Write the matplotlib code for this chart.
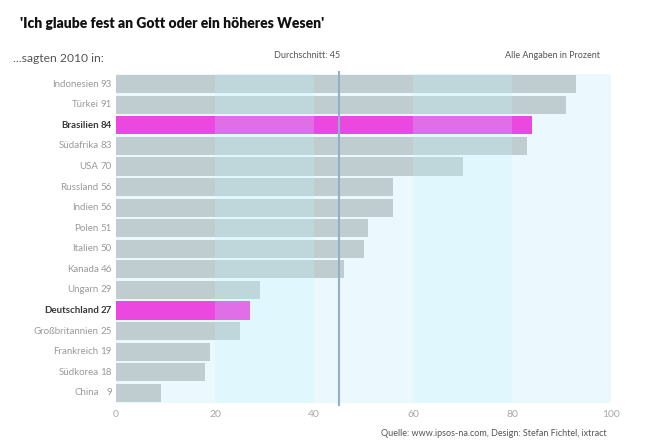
import matplotlib
matplotlib.use("Agg")
import matplotlib.pyplot as plt
import matplotlib.transforms as mtransforms

countries = ["Indonesien", "Türkei", "Brasilien", "Südafrika", "USA", "Russland",
             "Indien", "Polen", "Italien", "Kanada", "Ungarn", "Deutschland",
             "Großbritannien", "Frankreich", "Südkorea", "China"]
values = [93, 91, 84, 83, 70, 56, 56, 51, 50, 46, 29, 27, 25, 19, 18, 9]
highlight = ["Brasilien", "Deutschland"]
average = 45
xticks = [0, 20, 40, 60, 80, 100]

plt.rcParams['font.family'] = ['Lato', 'DejaVu Sans']

fig = plt.figure(figsize=(6.5, 4.45), dpi=100)
ax = fig.add_axes([116/650, 1-403/445, 495/650, 329/445])

n = len(countries)
ax.set_xlim(0, 100)
ax.set_ylim(n - 0.5, -0.5)

# light background
ax.axvspan(0, 100, color="#ebf8fd", zorder=0, lw=0)

bar_colors = ["#eb48e0" if c in highlight else "#bfcdd1" for c in countries]
ax.barh(range(n), values, height=0.88, color=bar_colors, zorder=1, lw=0)

# darker bands overlaid
for a, b in [(20, 40), (60, 80)]:
    ax.axvspan(a, b, color="#bff4ff", alpha=0.23, zorder=2, lw=0)

# average line
ax.plot([average, average], [-0.6, n - 0.4], color="#8fb0c8", lw=1.5,
        zorder=3, clip_on=False)

for s in ax.spines.values():
    s.set_visible(False)
ax.set_yticks([])
ax.set_xticks(xticks)
ax.set_xticklabels([str(t) for t in xticks], color="#a8a8a8", fontsize=7.5)
ax.tick_params(axis="x", length=0, pad=5)

# country labels
name_tr = mtransforms.offset_copy(ax.get_yaxis_transform(), fig=fig, x=-12.5, y=0, units="points")
val_tr = mtransforms.offset_copy(ax.get_yaxis_transform(), fig=fig, x=-3, y=0, units="points")
for i, (c, v) in enumerate(zip(countries, values)):
    bold = c in highlight
    col = "#3a3a3a" if bold else "#9a9a9a"
    fw = "bold" if bold else "normal"
    ax.text(0, i, c, transform=name_tr, ha="right", va="center", fontsize=7,
            color=col, fontweight=fw)
    ax.text(0, i, str(v), transform=val_tr, ha="right", va="center", fontsize=7,
            color=col, fontweight=fw)

fig.text(20/650, 1-23/445, "'Ich glaube fest an Gott oder ein höheres Wesen'",
         fontsize=10, fontweight="heavy", color="#111111", ha="left", va="center")
fig.text(13/650, 1-59/445, "...sagten 2010 in:", fontsize=8.7, color="#555555",
         ha="left", va="center")
fig.text(340/650, 1-55/445, "Durchschnitt: 45", fontsize=6.5, color="#555555",
         ha="right", va="center")
fig.text(600/650, 1-55/445, "Alle Angaben in Prozent", fontsize=6.5, color="#555555",
         ha="right", va="center")
fig.text(607/650, 1-433/445, "Quelle: www.ipsos-na.com, Design: Stefan Fichtel, ixtract",
         fontsize=6.5, color="#555555", ha="right", va="center")

fig.savefig("out.png", dpi=100)
